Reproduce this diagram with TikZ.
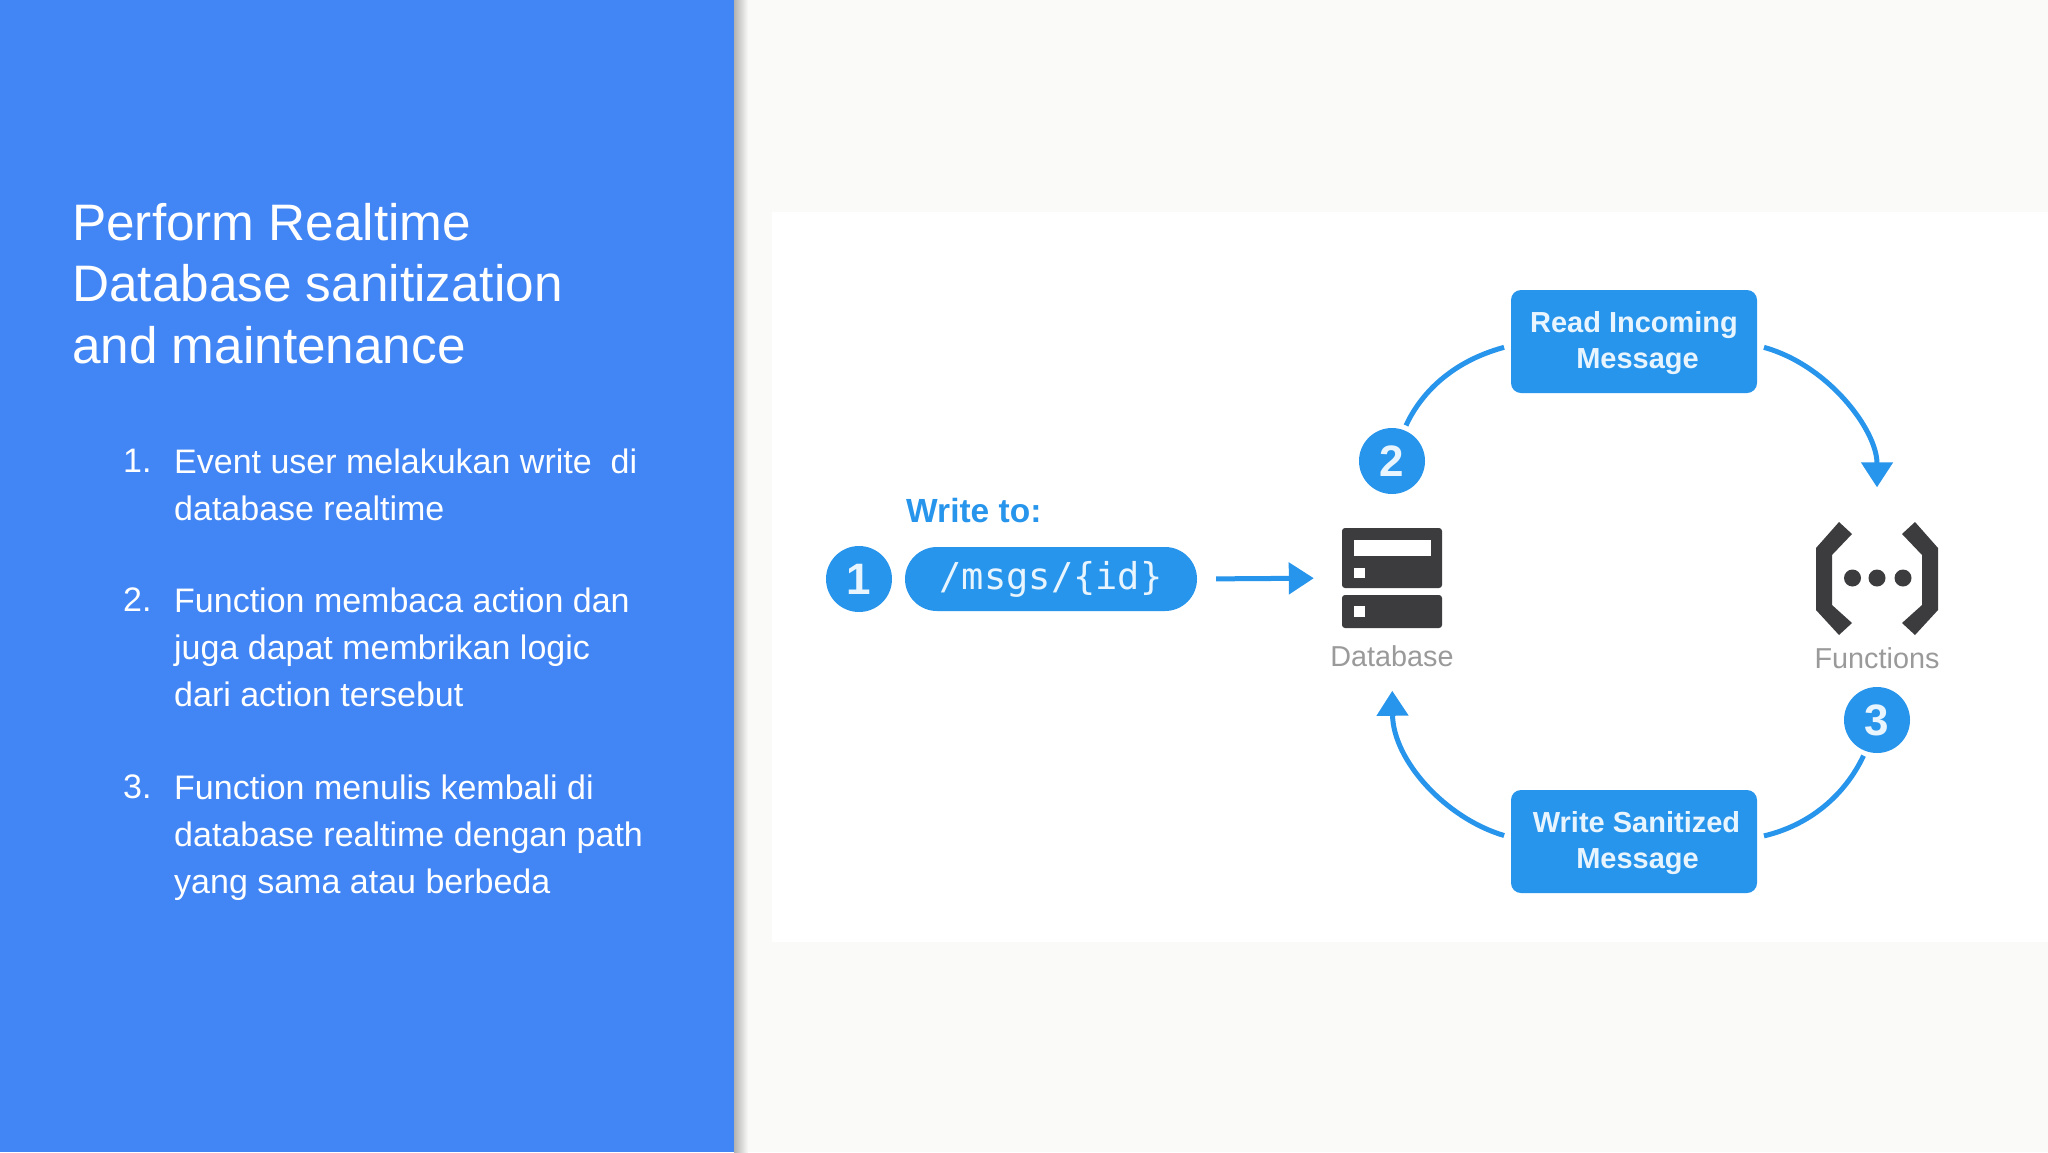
\documentclass[tikz,border=0pt]{standalone}
\usepackage{fontspec}
\setmainfont{Liberation Sans}
\newfontfamily\codefont{DejaVu Sans Mono}
\usetikzlibrary{arrows.meta,calc}
\definecolor{panelblue}{HTML}{4285F4}
\definecolor{diagblue}{HTML}{2795EC}
\definecolor{icondark}{HTML}{3C3C3F}
\definecolor{labelgrey}{HTML}{9A9A9A}
\definecolor{softwhite}{HTML}{E9F5FE}
\definecolor{pagebg}{HTML}{FAFAF8}
\newcommand{\boxstrut}{\rule{0pt}{25pt}}
\tikzset{
  x=1pt,y=-1pt,
  slidetitle/.style={anchor=north west,inner sep=0pt,align=left,text=white,font=\fontsize{51.3}{61.4}\selectfont},
  bodytext/.style={anchor=north west,inner sep=0pt,align=left,text=white,font=\fontsize{34}{47}\selectfont},
  badge/.style={circle,fill=diagblue,minimum size=66pt,inner sep=0pt,text=softwhite,font=\fontsize{44}{44}\bfseries\selectfont},
  stepbox/.style={rectangle,rounded corners=10pt,fill=diagblue,minimum width=246pt,minimum height=103pt,inner sep=0pt,align=center,text=softwhite,font=\fontsize{29}{36}\bfseries\selectfont},
  iconlabel/.style={inner sep=0pt,text=labelgrey,font=\fontsize{28.8}{30}\selectfont},
  flow/.style={draw=diagblue,line width=5pt},
  flowhead/.style={flow,-{Triangle[length=25pt,width=31pt]}},
  iconbox/.style={inner sep=0pt,minimum width=100pt,minimum height=100pt},
}
\begin{document}
\begin{tikzpicture}
\useasboundingbox (0,0) rectangle (2048,1152);
% backgrounds
\fill[pagebg] (0,0) rectangle (2048,1152);
\fill[white] (772,212) rectangle (2048,942);
\fill[panelblue] (0,0) rectangle (734,1152);
\shade[left color=black!30,right color=pagebg] (734,0) rectangle (748,1152);
% left text
\node[slidetitle] (title) at (72,203) {Perform Realtime\\Database sanitization\\and maintenance};
\node[bodytext] (n1) at (123,449) {1.};
\node[bodytext] (t1) at (174,449) {Event user melakukan write~ di\\database realtime};
\node[bodytext] (n2) at (123,588) {2.};
\node[bodytext] (t2) at (174,588) {Function membaca action dan\\juga dapat membrikan logic\\dari action tersebut};
\node[bodytext] (n3) at (123,775) {3.};
\node[bodytext] (t3) at (174,775) {Function menulis kembali di\\database realtime dengan path\\yang sama atau berbeda};
% write-to row
\node[inner sep=0pt,anchor=base west,text=diagblue,font=\fontsize{33.5}{36}\bfseries\selectfont] (writeto) at (906,522) {Write to:};
\node[badge] (one) at (859,579) {1};
\node[rectangle,rounded corners=32pt,fill=diagblue,minimum width=292pt,minimum height=64pt,inner sep=0pt,text=softwhite,font=\fontsize{37}{37}\codefont\selectfont] (path) at (1051,579) {\raisebox{-2pt}{/msgs/\{id\}}};
% database icon
\node[iconbox] (db) at (1392,578) {};
\fill[icondark,rounded corners=3pt] (1342,528) rectangle (1442,588);
\fill[icondark,rounded corners=3pt] (1342,595) rectangle (1442,628);
\fill[white] (1354,540) rectangle (1431,556);
\fill[white] (1354,568) rectangle (1365,578);
\fill[white] (1354,606) rectangle (1365,617);
\node[iconlabel] (dblabel) at (1392,656) {Database};
% functions icon
\node[iconbox,minimum height=113pt] (fn) at (1877,578) {};
\fill[icondark] (1839,522) -- (1852,534) -- (1832,555) -- (1832,605) -- (1852,623) -- (1839,635) -- (1816,610) -- (1816,548) -- cycle;
\fill[icondark] (1915,522) -- (1902,534) -- (1922,555) -- (1922,605) -- (1902,623) -- (1915,635) -- (1938,610) -- (1938,548) -- cycle;
\fill[icondark] (1852.5,578) circle[radius=8.5];
\fill[icondark] (1877,578) circle[radius=8.5];
\fill[icondark] (1903,578) circle[radius=8.5];
\node[iconlabel] (fnlabel) at (1877,658) {Functions};
% cycle
\node[stepbox] (read) at (1634,341.5) {\boxstrut Read Incoming\\\hspace*{7pt}Message};
\node[stepbox] (write) at (1634,841.5) {\boxstrut\hspace*{5pt}Write Sanitized\\\hspace*{7pt}Message};
\node[badge] (two) at (1392,461) {2};
\node[badge] (three) at (1877,720) {3};
% connectors
\draw[flowhead,shorten <=19pt,shorten >=28pt] (path.east) -- (db.west);
\draw[flow,shorten <=5pt,shorten >=7pt] (two.69) .. controls (1420,395) and (1450,362) .. ($(read.west)+(0,4)$);
\draw[flowhead,shorten <=7pt,shorten >=34pt] ($(read.east)+(0,4)$) .. controls (1828,365) and (1877,430) .. (fn.north);
\draw[flow,shorten <=5pt,shorten >=7pt] (three.250) .. controls (1845,795) and (1810,825) .. ($(write.east)+(0,-4)$);
\draw[flowhead,shorten <=7pt,shorten >=24pt] ($(write.west)+(0,-4)$) .. controls (1445,818) and (1393,760) .. (dblabel.south);
\end{tikzpicture}
\end{document}
